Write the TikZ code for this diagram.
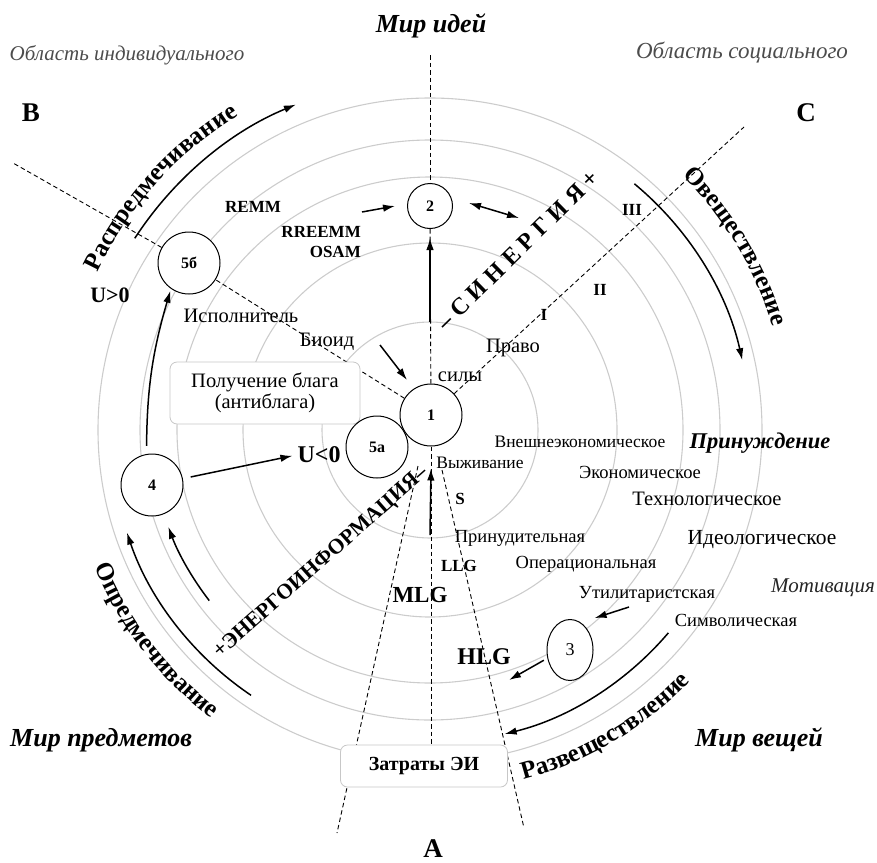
\documentclass[tikz,border=0pt]{standalone}
\usepackage{fontspec}
\setmainfont{Liberation Serif}
\usetikzlibrary{arrows.meta,decorations.text,calc,shapes.geometric,backgrounds}
\newcommand\myfs[1]{\fontsize{#1}{#1}\selectfont}
\begin{document}
\begin{tikzpicture}[x=1pt,y=-1pt,
  gcirc/.style={draw=black!20, line width=1.1pt},
  dline/.style={draw=black, line width=0.9pt, dash pattern=on 4.5pt off 3pt},
  arr/.style={-{Latex[length=12pt,width=7.5pt]}, line width=1.5pt},
  darr/.style={{Latex[length=12pt,width=7.5pt]}-{Latex[length=12pt,width=7.5pt]}, line width=1.5pt},
  num/.style={circle, draw, fill=white, line width=1pt, minimum size=62pt, inner sep=0pt, font=\bfseries\myfs{16}},
  sm/.style={font=\myfs{18.5}, inner sep=1pt},
  md/.style={font=\myfs{20.5}, inner sep=1pt},
  bl/.style={font=\bfseries\myfs{17}, inner sep=1pt},
  bg/.style={font=\bfseries\myfs{23}, inner sep=1pt},
  letter/.style={font=\bfseries\myfs{27}, inner sep=1pt},
  world/.style={font=\bfseries\itshape\myfs{26}, inner sep=1pt},
  area/.style={font=\itshape\myfs{21}, text=black!70, inner sep=1pt},
  box/.style={draw=black!22, rounded corners=7pt, fill=white, line width=0.8pt},
  curve/.style={decorate, decoration={text along path, text align=center, text={|\bfseries\myfs{25}|#1}}},
]
\useasboundingbox (0,0) rectangle (877,862);
\coordinate (C) at (430,430);

% boxes
\node[box, minimum width=190pt, minimum height=62pt, align=center, font=\myfs{20.5}] (gain) at (265,393) {Получение блага\\(антиблага)};
\node[box, minimum width=167pt, minimum height=42pt, font=\bfseries\myfs{20}] (cost) at (424,766) {Затраты ЭИ};

% numbered nodes
\node[num] (n1) at (431,415) {1};
\node[num] (n5a) at (377,447) {5а};
\node[num] (n4) at (152,485) {4};
\node[num] (n5b) at (189,263) {5б};
\node[num, minimum size=45pt] (n2) at (430,206) {2};
\node[ellipse, draw, fill=white, line width=1pt, minimum width=46pt, minimum height=61pt, inner sep=0pt, font=\myfs{18}] (n3) at (570,650) {3};

% free ends
\coordinate (topI) at (430,55);
\coordinate (Bend) at (13,163);
\coordinate (Cend) at (744,127);
\coordinate (wl0) at (418,466);
\coordinate (wl1) at (337,833);
\coordinate (wr0) at (442,470);
\coordinate (wr1) at (524,828);

\begin{scope}[on background layer]
  \foreach \r in {108,187,253,290,332} \draw[gcirc] (C) circle[radius=\r];
  \draw[dline] (topI) -- (n2);
  \draw[dline] (n2) -- (n1);
  \draw[dline] (n1) -- (n1 |- cost.north);
  \draw[dline] (n1) -- (Cend);
  \draw[dline] (n1) -- (n5b);
  \draw[dline] (n5b) -- (Bend);
  \draw[dline] (wl0) -- (wl1);
  \draw[dline] (wr0) -- (wr1);
\end{scope}

% labels
\node[world] (wideas) at (431,26) {Мир идей};
\node[area] (aind) at (127,55) {Область индивидуального};
\node[area, font=\itshape\myfs{23}] (asoc) at (742,53) {Область социального};
\node[letter] (lB) at (31,113) {B};
\node[letter] (lC) at (806,113) {C};
\node[letter] (lA) at (433,849) {A};
\node[world, anchor=west] (wobj) at (9,740) {Мир предметов};
\node[world] (wthing) at (759,740) {Мир вещей};
\node[world, font=\bfseries\itshape\myfs{22.5}] (coer) at (760,443) {Принуждение};
\node[font=\itshape\myfs{21}, text=black!85] (motiv) at (823,588) {Мотивация};

\node[sm, font=\myfs{17.5}] (t1) at (580,442) {Внешнеэкономическое};
\node[sm] (t2) at (640,472) {Экономическое};
\node[md] (t3) at (707,499) {Технологическое};
\node[md, font=\myfs{21.5}] (t4) at (762,540) {Идеологическое};
\node[sm, font=\myfs{17.5}] (t5) at (480,463) {Выживание};
\node[md] (t6) at (460,377) {силы};
\node[md] (t7) at (513,348) {Право};
\node[sm] (t8) at (520,538) {Принудительная};
\node[sm] (t9) at (586,564) {Операциональная};
\node[sm] (t10) at (647,594) {Утилитаристская};
\node[sm] (t11) at (736,620) {Символическая};
\node[md] (t12) at (241,316) {Исполнитель};
\node[md] (t13) at (327,342) {Биоид};

\node[bl] (r1) at (544,315) {I};
\node[bl] (r2) at (600,290) {II};
\node[bl] (r3) at (632,210) {III};
\node[bl] (sS) at (460,499) {S};
\node[bl] (llg) at (459,566) {LLG};
\node[bg] (mlg) at (420,595) {MLG};
\node[bg, font=\bfseries\myfs{24}] (hlg) at (484,657) {HLG};
\node[bl] (remm) at (253,207) {REMM};
\node[bl, anchor=east] (rreemm) at (362,232) {RREEMM};
\node[bl, anchor=east] (osam) at (362,252) {OSAM};
\node[bg, font=\bfseries\myfs{22}] (ugt) at (110,295) {U>0};
\node[bg, font=\bfseries\myfs{24}] (ult) at (319,455) {U<0};

\node[bg, font=\bfseries\myfs{24}, rotate=44.4] (syn) at (518,250) {–\hspace{6pt}С\hspace{6pt}И\hspace{6pt}Н\hspace{6pt}Е\hspace{6pt}Р\hspace{6pt}Г\hspace{6pt}И\hspace{6pt}Я\hspace{6pt}+};
\node[bg, font=\bfseries\myfs{21.5}, rotate=41.5] (eni) at (321,563) {+ЭНЕРГОИНФОРМАЦИЯ–};

% curved texts
\path[curve=Распредмечивание] (C) ++(180:368) arc[start angle=180, end angle=264, radius=368];
\path[curve=Овеществление] (C) ++(-70:358) arc[start angle=-70, end angle=8, radius=358];
\path[curve=Опредмечивание] (C) ++(182:362) arc[start angle=182, end angle=103, radius=362];
\path[curve=Развеществление] (C) ++(98:362) arc[start angle=98, end angle=21, radius=362];

% arc arrows
\draw[arr] (C) ++(213:352) arc[start angle=213, end angle=247.6, radius=352];
\draw[arr] (C) ++(-50.3:320) arc[start angle=-50.3, end angle=-12.6, radius=320];
\draw[arr] (C) ++(124:320) arc[start angle=124, end angle=161.3, radius=320];
\draw[arr] (C) ++(142.3:279) arc[start angle=142.3, end angle=159.7, radius=279];
\draw[arr] (C) ++(40.4:313) arc[start angle=40.4, end angle=76.2, radius=313];

% straight arrows
\coordinate (a12s) at (430,322);
\draw[arr] (a12s) -- ([yshift=-9pt]n2.south);
\coordinate (a01s) at (430,535);
\draw[arr] (a01s) -- ([yshift=-22pt]n1.south);
\coordinate (remmS) at (362,212);
\draw[arr] (remmS) -- ([xshift=-12pt]n2.west);
\coordinate (bioS) at (380,345);
\coordinate (bioE) at (407,380);
\draw[arr] (bioS) -- (bioE);
\coordinate (synA) at (469,203);
\coordinate (synB) at (519,218);
\draw[darr] (synA) -- (synB);
\draw[arr, shorten <=8pt, shorten >=4pt] (n4) -- (ult.west);
\draw[arr, shorten <=8pt, shorten >=2pt] (n4.100) to[bend left=8] (n5b.235);
\coordinate (utS) at (629,607);
\draw[arr] (utS) -- ([shift={(8pt,10pt)}]n3.north east);
\coordinate (hlgE) at (509,680);
\draw[arr, shorten <=4pt] (n3.200) -- (hlgE);
\end{tikzpicture}
\end{document}
